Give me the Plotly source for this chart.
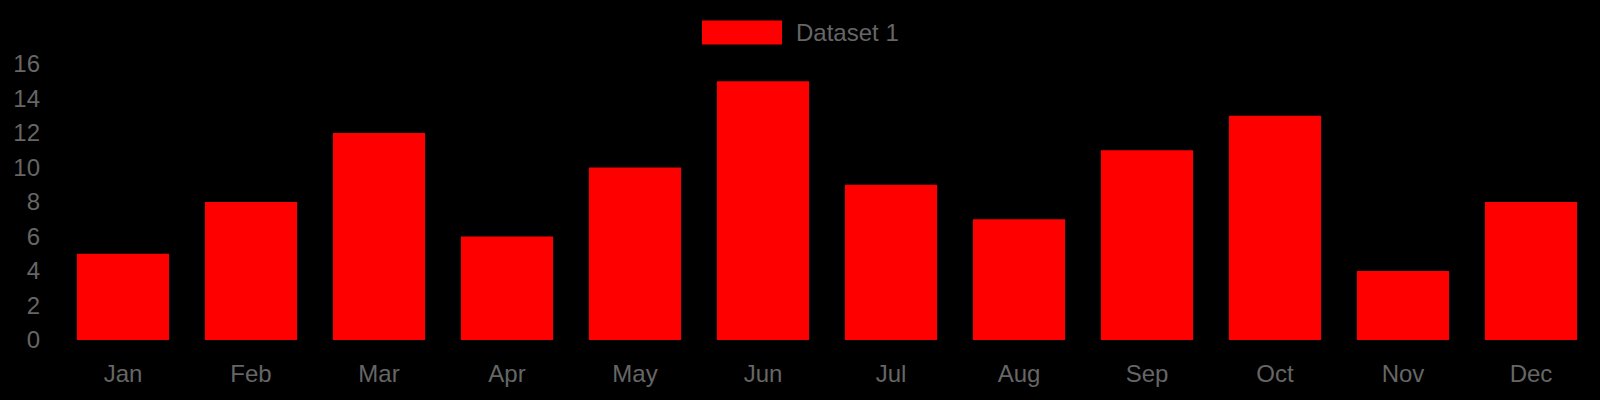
import plotly.graph_objects as go

months = ["Jan", "Feb", "Mar", "Apr", "May", "Jun", "Jul", "Aug", "Sep", "Oct", "Nov", "Dec"]
values = [5, 8, 12, 6, 10, 15, 9, 7, 11, 13, 4, 8]
series_name = "Dataset 1"
y_ticks = [0, 2, 4, 6, 8, 10, 12, 14, 16]

W, H = 1600, 400
L, R, T, B = 59, 5, 63.5, 60
pw = W - L - R
ph = H - T - B

def px_x(px):
    return (px - L) / pw

def px_y(py):
    return (H - B - py) / ph

font = dict(family="Liberation Sans, Arial, sans-serif", size=24, color="#666666")

fig = go.Figure()
fig.add_trace(go.Bar(
    x=months, y=values, name=series_name,
    marker=dict(color="#ff0000", line=dict(width=0)),
    showlegend=False,
))

fig.update_layout(
    width=W, height=H,
    margin=dict(l=L, r=R, t=T, b=B),
    paper_bgcolor="#000000", plot_bgcolor="#000000",
    font=font,
    bargap=0.28,
    hovermode=False,
    xaxis=dict(showgrid=False, zeroline=False, showline=False, ticks="",
               ticklabelstandoff=17, tickfont=font),
    yaxis=dict(range=[0, 16], tickvals=y_ticks, showgrid=False, zeroline=False,
               showline=False, ticks="", ticklabelstandoff=18, tickfont=font),
    shapes=[dict(type="rect", xref="paper", yref="paper",
                 x0=px_x(702), x1=px_x(782), y0=px_y(44), y1=px_y(20),
                 fillcolor="#ff0000", line=dict(width=0))],
    annotations=[dict(text=series_name, xref="paper", yref="paper",
                      x=px_x(794), y=px_y(32), xanchor="left", yanchor="middle",
                      showarrow=False, font=font)],
)

fig.write_html(
    "out.html",
    config={"displayModeBar": False},
    post_script="document.body.style.margin='0';document.body.style.background='#000';document.body.style.overflow='hidden';",
)
